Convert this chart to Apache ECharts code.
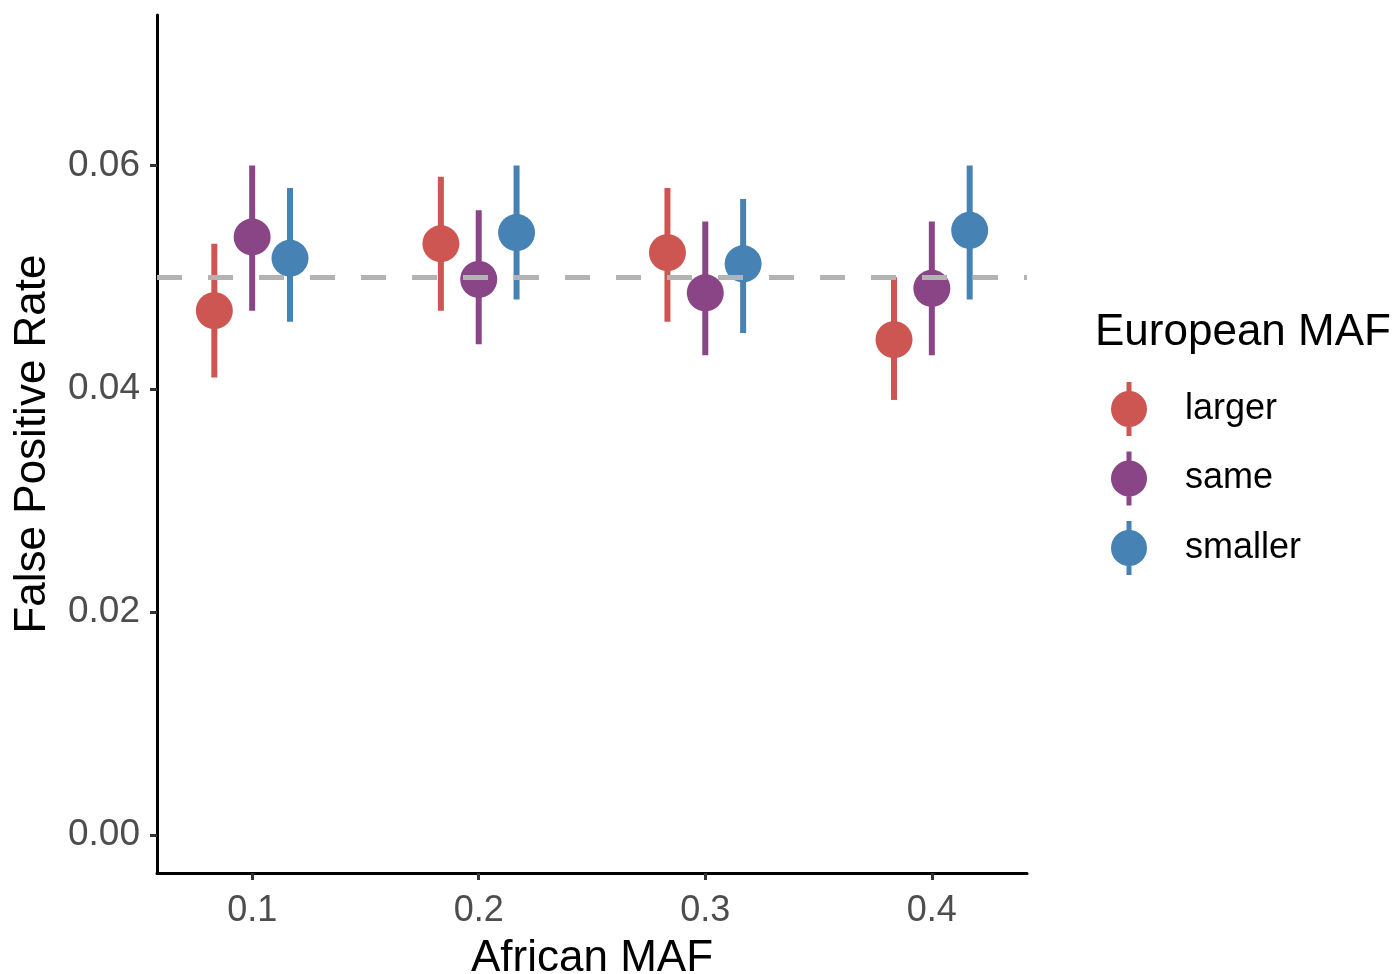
<!DOCTYPE html>
<html>
<head>
<meta charset="utf-8">
<script src="https://cdn.jsdelivr.net/npm/echarts@6/dist/echarts.min.js"></script>
<style>
  html, body { margin: 0; padding: 0; background: #fff; }
  #chart-container { width: 1393px; height: 974px; }
</style>
</head>
<body>
<div id="chart-container"></div>
<script>
var dom = document.getElementById('chart-container');
var myChart = echarts.init(dom, null, { renderer: 'canvas' });

// African MAF categories
const mafs = [0.1, 0.2, 0.3, 0.4];
const groups = ['larger', 'same', 'smaller'];
const colors = ['#CD5552', '#8A4587', '#4682B4'];

// estimates and interval ends, per group
const largerY  = [0.0470, 0.0530, 0.0522, 0.0444];
const largerLo = [0.041, 0.047, 0.046, 0.039];
const largerHi = [0.053, 0.059, 0.058, 0.050];

const sameY  = [0.0536, 0.0498, 0.0486, 0.0490];
const sameLo = [0.047, 0.044, 0.043, 0.043];
const sameHi = [0.060, 0.056, 0.055, 0.055];

const smallerY  = [0.0517, 0.0540, 0.0512, 0.0542];
const smallerLo = [0.046, 0.048, 0.045, 0.048];
const smallerHi = [0.058, 0.060, 0.057, 0.060];

const yTicks = [0, 0.02, 0.04, 0.06];
const nominal = 0.05;

const est = [largerY, sameY, smallerY];
const los = [largerLo, sameLo, smallerLo];
const his = [largerHi, sameHi, smallerHi];
const dodge = 0.0167;

var series = [];

groups.forEach(function (g, i) {
    var off = (i - 1) * dodge;
    series.push({
        name: g,
        type: 'custom',
        z: 3,
        itemStyle: { color: colors[i] },
        renderItem: function (params, api) {
            var top = api.coord([api.value(0), api.value(2)]);
            var bot = api.coord([api.value(0), api.value(1)]);
            return {
                type: 'line',
                shape: { x1: top[0], y1: top[1], x2: bot[0], y2: bot[1] },
                style: { stroke: colors[i], lineWidth: 6 }
            };
        },
        data: mafs.map(function (m, k) { return [m + off, los[i][k], his[i][k]]; })
    });
    series.push({
        name: g,
        type: 'scatter',
        z: 4,
        symbolSize: 37,
        itemStyle: { color: colors[i], opacity: 1 },
        data: mafs.map(function (m, k) { return [m + off, est[i][k]]; })
    });
});

// dashed reference line, behind everything
series.push({
    type: 'line',
    data: [],
    z: 1,
    itemStyle: { color: '#b3b3b3' },
    markLine: {
        silent: true,
        symbol: 'none',
        label: { show: false },
        lineStyle: { color: '#b3b3b3', width: 5, type: [25, 26] },
        data: [{ yAxis: nominal }]
    }
});

var option = {
    animation: false,
    color: colors,
    textStyle: { fontFamily: 'Liberation Sans, Arial, sans-serif' },
    title: {
        text: 'European MAF',
        left: 1095,
        top: 311,
        padding: 0,
        textStyle: { fontSize: 44, fontWeight: 'normal', color: '#000' }
    },
    legend: {
        orient: 'vertical',
        left: 1106,
        top: 377,
        itemWidth: 36,
        itemHeight: 54,
        itemGap: 15.5,
        icon: 'path://M15.5,0L20.5,0L20.5,54L15.5,54Z M0,27A18,18 0 1,1 36,27A18,18 0 1,1 0,27Z',
        data: groups,
        textStyle: { fontSize: 36, color: '#000', padding: [0, 0, 0, 33] }
    },
    grid: {
        left: 157,
        right: 366,
        top: 15,
        bottom: 101,
        containLabel: false,
        outerBoundsMode: 'none'
    },
    xAxis: {
        type: 'value',
        min: 0.058,
        max: 0.442,
        name: 'African MAF',
        nameLocation: 'middle',
        nameGap: 64,
        nameTextStyle: { fontSize: 44, color: '#000' },
        splitLine: { show: false },
        axisLine: { onZero: false, lineStyle: { color: '#000', width: 3 } },
        axisTick: { customValues: mafs, length: 7, lineStyle: { color: '#333', width: 3 } },
        axisLabel: {
            customValues: mafs,
            margin: 20,
            fontSize: 36,
            color: '#4d4d4d',
            formatter: function (v) { return v.toFixed(1); }
        }
    },
    yAxis: {
        type: 'value',
        min: -0.0034,
        max: 0.0735,
        name: 'False Positive Rate',
        nameLocation: 'middle',
        nameGap: 102,
        nameRotate: 90,
        nameTextStyle: { fontSize: 44, color: '#000' },
        splitLine: { show: false },
        axisLine: { show: true, onZero: false, lineStyle: { color: '#000', width: 3 } },
        axisTick: { show: true, customValues: yTicks, length: 7, lineStyle: { color: '#333', width: 3 } },
        axisLabel: {
            customValues: yTicks,
            margin: 17,
            fontSize: 37,
            color: '#4d4d4d',
            formatter: function (v) { return v.toFixed(2); }
        }
    },
    series: series
};

myChart.setOption(option);
window.addEventListener('resize', myChart.resize);
</script>
</body>
</html>
